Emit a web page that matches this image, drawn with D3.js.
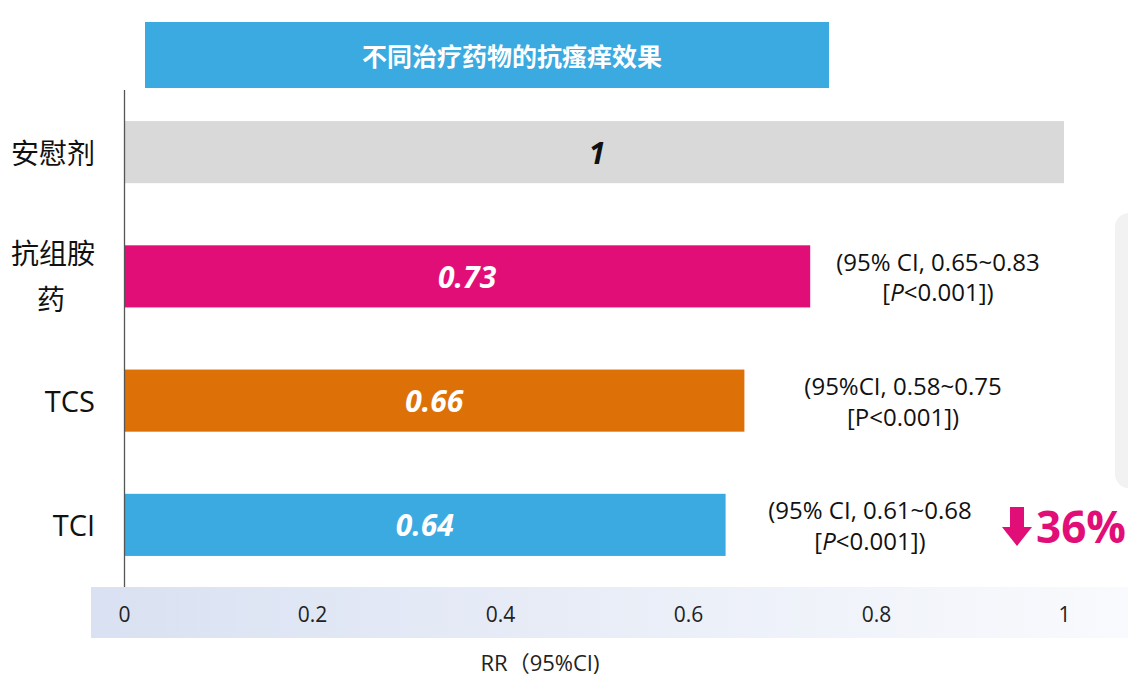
<!DOCTYPE html>
<html><head><meta charset="utf-8">
<script src="https://cdn.jsdelivr.net/npm/d3@7"></script>
<style>
html,body{margin:0;padding:0;background:#fff;}
svg{display:block;}
</style></head>
<body>
<svg id="chart" width="1128" height="700"></svg>
<script>
const categories = ["安慰剂", "抗组胺药", "TCS", "TCI"];
const values = [1, 0.73, 0.66, 0.64];
const valueLabels = ["1", "0.73", "0.66", "0.64"];
const ciLine1 = [null, "(95% CI, 0.65~0.83", "(95%CI, 0.58~0.75", "(95% CI, 0.61~0.68"];
const ciLine2 = [null, ["[", "P", "<0.001])"], ["[P<0.001])"], ["[", "P", "<0.001])"]];
const colors = ["#D9D9D9", "#E20E77", "#DE7008", "#3AAAE0"];
const ticks = [0, 0.2, 0.4, 0.6, 0.8, 1];
const tickLabels = ["0", "0.2", "0.4", "0.6", "0.8", "1"];
const title = "不同治疗药物的抗瘙痒效果";
const axisTitle = "RR（95%CI)";
const reduction = "36%";

const svg = d3.select("#chart");
const x = d3.scaleLinear().domain([0, 1]).range([124, 1064]);
const y = d3.scaleBand().domain(categories).range([90, 587]).paddingInner(0.5).paddingOuter(0.25);

const defs = svg.append("defs");
const grad = defs.append("linearGradient").attr("id", "axg").attr("x1", "0").attr("x2", "1").attr("y1", "0").attr("y2", "0");
grad.append("stop").attr("offset", "0").attr("stop-color", "#D9E1F2");
grad.append("stop").attr("offset", "1").attr("stop-color", "#F9FAFD");

// right gray panel
svg.append("rect").attr("x", 1115).attr("y", 213).attr("width", 40).attr("height", 275).attr("rx", 14).attr("fill", "#F2F2F2");

// title
svg.append("rect").attr("x", 145).attr("y", 22).attr("width", 684).attr("height", 66).attr("fill", "#3AAAE0");
svg.append("text").attr("x", 512).attr("y", 55).attr("text-anchor", "middle").attr("dominant-baseline", "central")
  .attr("font-family", "'Noto Sans CJK SC'").attr("font-weight", "bold").attr("font-size", 25).attr("fill", "#fff").text(title);

// axis band
svg.append("rect").attr("x", 91).attr("y", 587).attr("width", 1037).attr("height", 51).attr("fill", "url(#axg)");
const xAxis = d3.axisBottom(x).tickValues(ticks).tickFormat((d, i) => tickLabels[i]).tickSize(0).tickPadding(0);
const ax = svg.append("g").attr("transform", "translate(0,607)").call(xAxis);
ax.select(".domain").remove();
ax.selectAll("text").attr("font-family", "'Open Sans'").attr("font-size", 21).attr("fill", "#222");
svg.append("text").attr("x", 540).attr("y", 662).attr("text-anchor", "middle").attr("dominant-baseline", "central")
  .attr("font-family", "'Open Sans', 'Noto Sans CJK SC'").attr("font-size", 22).attr("fill", "#222").text(axisTitle);

// bars
svg.selectAll("rect.bar").data(categories).enter().append("rect").attr("class", "bar")
  .attr("x", x(0)).attr("y", d => y(d)).attr("width", (d, i) => x(values[i]) - x(0)).attr("height", y.bandwidth())
  .attr("fill", (d, i) => colors[i]);

// y axis line
svg.append("line").attr("x1", 124.5).attr("x2", 124.5).attr("y1", 90).attr("y2", 587).attr("stroke", "#555").attr("stroke-width", 1.3);

// value labels
svg.selectAll("text.val").data(categories).enter().append("text").attr("class", "val")
  .attr("x", (d, i) => i === 0 ? 597 : (x(0) + x(values[i])) / 2)
  .attr("y", d => y(d) + y.bandwidth() / 2).attr("text-anchor", "middle").attr("dominant-baseline", "central")
  .attr("font-family", "'Open Sans'").attr("font-weight", "bold").attr("font-style", "italic").attr("font-size", 30)
  .attr("fill", (d, i) => i === 0 ? "#111" : "#fff").text((d, i) => valueLabels[i]);

// category labels
const catFont = "'Noto Sans CJK SC'";
categories.forEach((c, i) => {
  const cy = y(c) + y.bandwidth() / 2;
  if (c === "抗组胺药") {
    svg.append("text").attr("x", 95).attr("y", cy - 24).attr("text-anchor", "end").attr("dominant-baseline", "central")
      .attr("font-family", catFont).attr("font-size", 28).attr("fill", "#111").text("抗组胺");
    svg.append("text").attr("x", 51).attr("y", cy + 22).attr("text-anchor", "middle").attr("dominant-baseline", "central")
      .attr("font-family", catFont).attr("font-size", 28).attr("fill", "#111").text("药");
  } else {
    svg.append("text").attr("x", 95).attr("y", cy).attr("text-anchor", "end").attr("dominant-baseline", "central")
      .attr("font-family", (/^[A-Z]/.test(c) ? "'Open Sans'" : catFont)).attr("font-size", /^[A-Z]/.test(c) ? 29 : 28).attr("fill", "#111").text(c);
  }
});

// CI annotations
const ciX = [null, 938, 903, 870];
categories.forEach((c, i) => {
  if (!ciLine1[i]) return;
  const cy = y(c) + y.bandwidth() / 2;
  svg.append("text").attr("x", ciX[i]).attr("y", cy - 15).attr("text-anchor", "middle").attr("dominant-baseline", "central")
    .attr("font-family", "'Open Sans'").attr("font-size", 24).attr("fill", "#111").text(ciLine1[i]);
  const t = svg.append("text").attr("x", ciX[i]).attr("y", cy + 15).attr("text-anchor", "middle").attr("dominant-baseline", "central")
    .attr("font-family", "'Open Sans'").attr("font-size", 24).attr("fill", "#111");
  ciLine2[i].forEach(part => {
    t.append("tspan").attr("font-style", part === "P" ? "italic" : "normal").text(part);
  });
});

// reduction arrow
const ry = y("TCI") + y.bandwidth() / 2;
const acx = 1017;
svg.append("path").attr("d", `M${acx-7},${ry-18} h14 v20 h8 l-15,19 l-15,-19 h8 z`).attr("fill", "#E20E77");
svg.append("text").attr("x", 1036).attr("y", ry + 1).attr("dominant-baseline", "central")
  .attr("font-family", "'Open Sans'").attr("font-weight", "bold").attr("font-size", 44).attr("fill", "#E20E77").text(reduction);
</script>
</body></html>
